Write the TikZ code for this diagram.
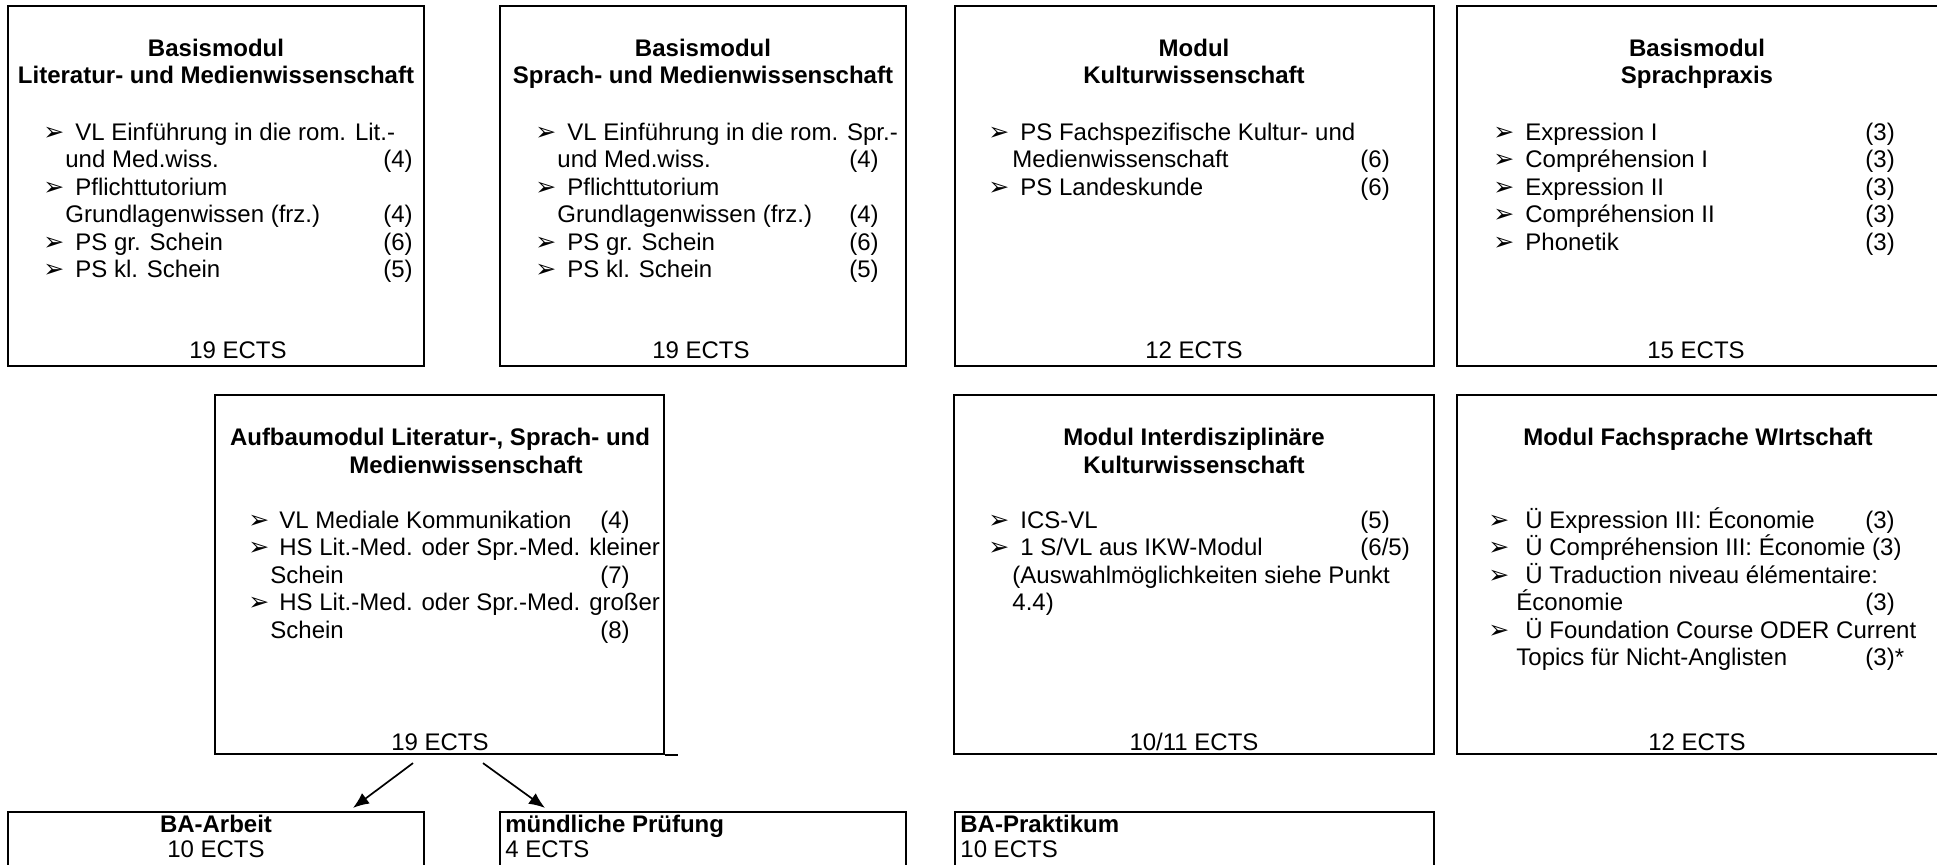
\documentclass[tikz,border=0pt]{standalone}
\usepackage{fontspec}
\setmainfont{Liberation Sans}
\newfontfamily\dvfont{DejaVu Sans}
\usetikzlibrary{arrows.meta,fit}
\newlength\tabp \newlength\bind \newlength\cind
\newcommand\strt{\vrule height 10.5pt depth 0pt width 0pt}
\newcommand\blt{{\dvfont\fontsize{12.5}{12.5}\selectfont ➢}}
\newcommand\itm[2]{\hbox{\strt\rlap{\makebox[\bind][l]{\blt}#1}\hbox to\tabp{}#2}}
\newcommand\cnt[2]{\hbox{\strt\rlap{\hspace*{\cind}#1}\hbox to\tabp{}#2}}
\newcommand\lst[4]{\vbox{\setlength\bind{#1}\setlength\cind{#2}\setlength\tabp{#3}\baselineskip=13.7pt\lineskiplimit=-20pt #4}}
\tikzset{
  box/.style={draw, line width=1.1pt, inner sep=0pt, rectangle},
  ttl/.style={font=\bfseries\fontsize{12}{13.7}\selectfont, inner sep=0pt, anchor=base},
  txt/.style={font=\fontsize{12}{13.7}\selectfont, inner sep=0pt, anchor=base},
  lstn/.style={font=\fontsize{12}{13.7}\selectfont, inner sep=0pt, anchor=north west},
  arr/.style={-{Latex[length=8pt,width=6.5pt]}, line width=0.85pt}
}
\begin{document}
\begin{tikzpicture}[x=0.5pt,y=-0.5pt]
\useasboundingbox (0,0) rectangle (1937,864);
\clip (0,0) rectangle (1937,864);
\fill[white] (0,0) rectangle (1937,864);
% boxes
\node[box, fit={(8,6) (424,366)}] (b1) {};
\node[box, fit={(500,6) (906,366)}] (b2) {};
\node[box, fit={(955,6) (1434,366)}] (b3) {};
\node[box, fit={(1457,6) (1960,366)}] (b4) {};
\node[box, fit={(215,395) (664,754)}] (b5) {};
\node[box, fit={(954,395) (1434,754)}] (b6) {};
\node[box, fit={(1457,395) (1960,754)}] (b7) {};
\node[box, fit={(8,812) (424,900)}] (b8) {};
\node[box, fit={(500,812) (906,900)}] (b9) {};
\node[box, fit={(955,812) (1434,900)}] (b10) {};
\draw[line width=1.1pt] (b5.south east) -- ++(13,0);
% box 1
\node[ttl] (t1a) at (216,56) {Basismodul};
\node[ttl] (t1b) at (216,83) {Literatur- und Medienwissenschaft};
\node[lstn] (l1) at (43,119) {\lst{16pt}{11pt}{170pt}{%
  \itm{VL Einführung in die rom. Lit.-}{}%
  \cnt{und Med.wiss.}{(4)}%
  \itm{Pflichttutorium}{}%
  \cnt{Grundlagenwissen (frz.)}{(4)}%
  \itm{PS gr. Schein}{(6)}%
  \itm{PS kl. Schein}{(5)}}};
\node[txt] (e1) at (238,358) {19 ECTS};
% box 2
\node[ttl] (t2a) at (703,56) {Basismodul};
\node[ttl] (t2b) at (703,83) {Sprach- und Medienwissenschaft};
\node[lstn] (l2) at (535,119) {\lst{16pt}{11pt}{157pt}{%
  \itm{VL Einführung in die rom. Spr.-}{}%
  \cnt{und Med.wiss.}{(4)}%
  \itm{Pflichttutorium}{}%
  \cnt{Grundlagenwissen (frz.)}{(4)}%
  \itm{PS gr. Schein}{(6)}%
  \itm{PS kl. Schein}{(5)}}};
\node[txt] (e2) at (701,358) {19 ECTS};
% box 3
\node[ttl] (t3a) at (1194,56) {Modul};
\node[ttl] (t3b) at (1194,83) {Kulturwissenschaft};
\node[lstn] (l3) at (988,119) {\lst{16pt}{12pt}{186pt}{%
  \itm{PS Fachspezifische Kultur- und}{}%
  \cnt{Medienwissenschaft}{(6)}%
  \itm{PS Landeskunde}{(6)}}};
\node[txt] (e3) at (1194,358) {12 ECTS};
% box 4
\node[ttl] (t4a) at (1697,56) {Basismodul};
\node[ttl] (t4b) at (1697,83) {Sprachpraxis};
\node[lstn] (l4) at (1493,119) {\lst{16pt}{11pt}{186pt}{%
  \itm{Expression I}{(3)}%
  \itm{Compréhension I}{(3)}%
  \itm{Expression II}{(3)}%
  \itm{Compréhension II}{(3)}%
  \itm{Phonetik}{(3)}}};
\node[txt] (e4) at (1696,358) {15 ECTS};
% box 5
\node[ttl] (t5a) at (440,445) {Aufbaumodul Literatur-, Sprach- und};
\node[ttl] (t5b) at (466,473) {Medienwissenschaft};
\node[lstn] (l5) at (248,507) {\lst{15.5pt}{11pt}{176pt}{%
  \itm{VL Mediale Kommunikation}{(4)}%
  \itm{HS Lit.-Med. oder Spr.-Med. kleiner}{}%
  \cnt{Schein}{(7)}%
  \itm{HS Lit.-Med. oder Spr.-Med. großer}{}%
  \cnt{Schein}{(8)}}};
\node[txt] (e5) at (440,750) {19 ECTS};
% box 6
\node[ttl] (t6a) at (1194,445) {Modul Interdisziplinäre};
\node[ttl] (t6b) at (1194,473) {Kulturwissenschaft};
\node[lstn] (l6) at (988,507) {\lst{16pt}{12pt}{186pt}{%
  \itm{ICS-VL}{(5)}%
  \itm{1 S/VL aus IKW-Modul}{(6/5)}%
  \cnt{(Auswahlmöglichkeiten siehe Punkt}{}%
  \cnt{4.4)}{}}};
\node[txt] (e6) at (1194,750) {10/11 ECTS};
% box 7
\node[ttl] (t7) at (1698,445) {Modul Fachsprache WIrtschaft};
\node[lstn] (l7) at (1488,507) {\lst{18.5pt}{14pt}{188.5pt}{%
  \itm{Ü Expression III: Économie}{(3)}%
  \itm{Ü Compréhension III: Économie (3)}{}%
  \itm{Ü Traduction niveau élémentaire:}{}%
  \cnt{Économie}{(3)}%
  \itm{Ü Foundation Course ODER Current}{}%
  \cnt{Topics für Nicht-Anglisten}{(3)*}}};
\node[txt] (e7) at (1697,750) {12 ECTS};
% bottom row
\node[ttl] (t8) at (216,832) {BA-Arbeit};
\node[txt] (e8) at (216,857) {10 ECTS};
\node[ttl, anchor=base west] (t9) at (505,832) {mündliche Prüfung};
\node[txt, anchor=base west] (e9) at (505,857) {4 ECTS};
\node[ttl, anchor=base west] (t10) at (960,832) {BA-Praktikum};
\node[txt, anchor=base west] (e10) at (960,857) {10 ECTS};
% arrows
\draw[arr] ([shift={(-26.5,8)}]b5.south) -- ([shift={(137,-3)}]b8.north);
\draw[arr] ([shift={(43.5,8)}]b5.south) -- ([shift={(-158,-3)}]b9.north);
\end{tikzpicture}
\end{document}
